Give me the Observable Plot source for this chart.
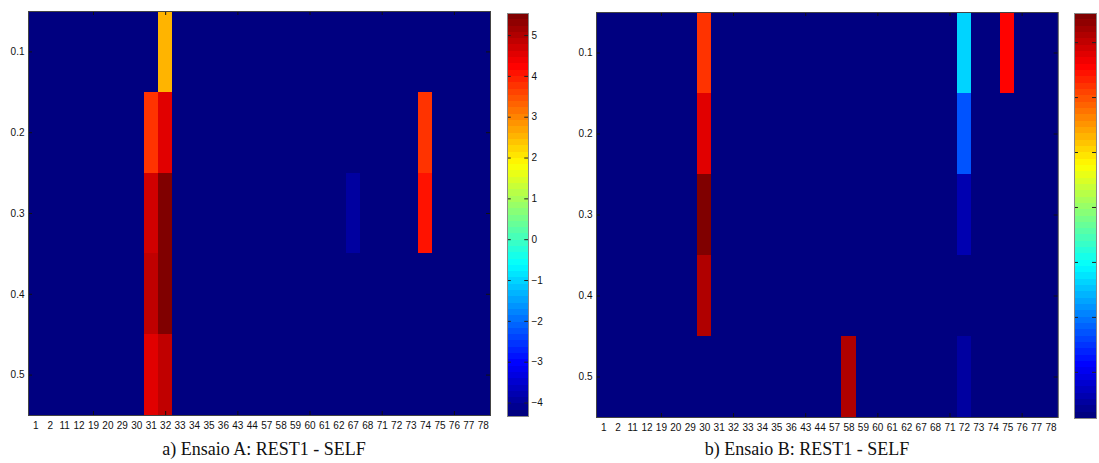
<!DOCTYPE html>
<html><head><meta charset="utf-8">
<script src="https://cdn.jsdelivr.net/npm/d3@7"></script>
<script src="https://cdn.jsdelivr.net/npm/@observablehq/plot@0.6"></script>
<style>
html,body{margin:0;padding:0;background:#fff;width:1099px;height:463px;overflow:hidden;position:relative}
.p{position:absolute;top:0}
.p svg{max-width:none !important;overflow:visible;display:block}
.cap{position:absolute;top:440px;font-family:"Liberation Serif","Times New Roman",serif;font-size:18px;line-height:18px;color:#111;white-space:nowrap;transform:translateX(-50%)}
</style></head><body>
<div id="mainA" class="p" style="left:0px;width:495px"></div>
<div id="barA" class="p" style="left:500px;width:50px"></div>
<div id="mainB" class="p" style="left:560px;width:500px"></div>
<div id="barB" class="p" style="left:1066px;width:60px"></div>
<div class="cap" style="left:264px">a) Ensaio A: REST1 - SELF</div>
<div class="cap" style="left:807px">b) Ensaio B: REST1 - SELF</div>
<script>
// ---------- data ----------
const electrodes = ["1","2","11","12","19","20","29","30","31","32","33","34","35","36","43","44","57","58","59","60","61","62","67","68","71","72","73","74","75","76","77","78"];
const levels = [0.1, 0.2, 0.3, 0.4, 0.5];
const xTickMarks = ["19","32","43","60","71","76"];

// Ensaio A
const aDomain = [-4.33, 5.54];
const aBackground = -4.33;
const aCellX = ["31","31","31","31","32","32","32","32","32","67","74","74"];
const aCellY = [0.2, 0.3, 0.4, 0.5, 0.1, 0.2, 0.3, 0.4, 0.5, 0.3, 0.2, 0.3];
const aCellV = [3.69, 4.75, 4.92, 4.6, 2.46, 4.48, 5.44, 5.44, 4.92, -4.0, 3.69, 4.0];
const aBarTicks = [-4, -3, -2, -1, 0, 1, 2, 3, 4, 5];

// Ensaio B
const bDomain = [-3.84, 3.53];
const bBackground = -3.84;
const bCellX = ["30","30","30","30","58","72","72","72","72","75"];
const bCellY = [0.1, 0.2, 0.3, 0.4, 0.5, 0.1, 0.2, 0.3, 0.5, 0.1];
const bCellV = [2.26, 2.83, 3.46, 3.18, 3.18, -1.33, -2.34, -3.49, -3.55, 2.5];
const bBarTicks = [-3, -2, -1, 0, 1, 2, 3];

// ---------- jet colormap (64 levels, MATLAB-like) ----------
function jet(t) {
  const c = x => Math.max(0, Math.min(1, x));
  const r = c(1.5 - Math.abs(4 * t - 3));
  const g = c(1.5 - Math.abs(4 * t - 2));
  const b = c(1.5 - Math.abs(4 * t - 1));
  return `rgb(${Math.round(r * 255)},${Math.round(g * 255)},${Math.round(b * 255)})`;
}
function jet64(t) {
  const i = Math.max(0, Math.min(63, Math.floor(t * 64)));
  return jet(i / 63);
}

const FONT = {fontFamily: "'Liberation Sans', Arial, sans-serif", fontSize: "10px", color: "#111", background: "transparent", maxWidth: "none"};

function heatmap({cellX, cellY, cellV, background, domain, width, height, margins}) {
  const lookup = new Map(cellX.map((x, i) => [x + "|" + cellY[i], cellV[i]]));
  const grid = [];
  for (const e of electrodes) for (const r of levels) {
    const k = e + "|" + r;
    grid.push({e, r, v: lookup.has(k) ? lookup.get(k) : background});
  }
  const bandH = (height - margins.top - margins.bottom) / levels.length;
  const bandW = (width - margins.left - margins.right) / electrodes.length;
  return Plot.plot({
    width, height,
    marginLeft: margins.left, marginRight: margins.right,
    marginTop: margins.top, marginBottom: margins.bottom,
    style: FONT,
    x: {type: "band", domain: electrodes, padding: 0, round: false, label: null},
    y: {type: "band", domain: levels, padding: 0, round: false, label: null},
    color: {type: "linear", domain, interpolate: jet64, clamp: true},
    marks: [
      Plot.cell(grid, {x: "e", y: "r", fill: "v", inset: 0, shapeRendering: "crispEdges"}),
      // inward tick marks (MATLAB-style)
      Plot.tickX(xTickMarks, {x: d => d, y: () => levels[levels.length - 1], insetTop: bandH - 4, stroke: "#111"}),
      Plot.tickX(xTickMarks, {x: d => d, y: () => levels[0], insetBottom: bandH - 4, stroke: "#111"}),
      Plot.tickY(levels, {y: d => d, x: () => electrodes[0], insetRight: bandW - 4, stroke: "#111"}),
      Plot.tickY(levels, {y: d => d, x: () => electrodes[electrodes.length - 1], insetLeft: bandW - 4, stroke: "#111"}),
      Plot.axisX({tickSize: 0, tickPadding: 6, label: null}),
      Plot.axisY({tickSize: 0, tickPadding: 4, label: null, tickFormat: d => d.toFixed(1)}),
      Plot.frame({stroke: "#444", strokeWidth: 1})
    ]
  });
}

function colorbar({domain, ticks, width, height, margins}) {
  const span = domain[1] - domain[0];
  const bands = d3.range(64).map(i => ({
    y1: domain[0] + i * span / 64,
    y2: domain[0] + (i + 1) * span / 64,
    v: domain[0] + (i + 0.5) * span / 64
  }));
  return Plot.plot({
    width, height,
    marginLeft: margins.left, marginRight: margins.right,
    marginTop: margins.top, marginBottom: margins.bottom,
    style: FONT,
    x: {domain: [0, 1], axis: null},
    y: {domain, label: null},
    color: {type: "linear", domain, interpolate: jet64, clamp: true},
    marks: [
      Plot.rect(bands, {x1: 0, x2: 1, y1: "y1", y2: "y2", fill: "v", shapeRendering: "crispEdges"}),
      Plot.ruleY(ticks, {y: d => d, x1: 0, x2: 0.18, stroke: "#222"}),
      Plot.ruleY(ticks, {y: d => d, x1: 0.82, x2: 1, stroke: "#222"}),
      Plot.axisY(ticks, {anchor: "right", tickSize: 0, tickPadding: 3, label: null}),
      Plot.frame({stroke: "#888", strokeWidth: 1})
    ]
  });
}

document.getElementById("mainA").append(heatmap({
  cellX: aCellX, cellY: aCellY, cellV: aCellV, background: aBackground, domain: aDomain,
  width: 495, height: 440, margins: {left: 28, right: 5, top: 11, bottom: 25}
}));
document.getElementById("barA").append(colorbar({
  domain: aDomain, ticks: aBarTicks, width: 50, height: 440,
  margins: {left: 7, right: 22, top: 13, bottom: 24}
}));
document.getElementById("mainB").append(heatmap({
  cellX: bCellX, cellY: bCellY, cellV: bCellV, background: bBackground, domain: bDomain,
  width: 500, height: 440, margins: {left: 36, right: 2.3, top: 12, bottom: 23}
}));
document.getElementById("barB").append(colorbar({
  domain: bDomain, ticks: bBarTicks, width: 60, height: 440,
  margins: {left: 8, right: 30, top: 13, bottom: 22}
}));
</script>
</body></html>
